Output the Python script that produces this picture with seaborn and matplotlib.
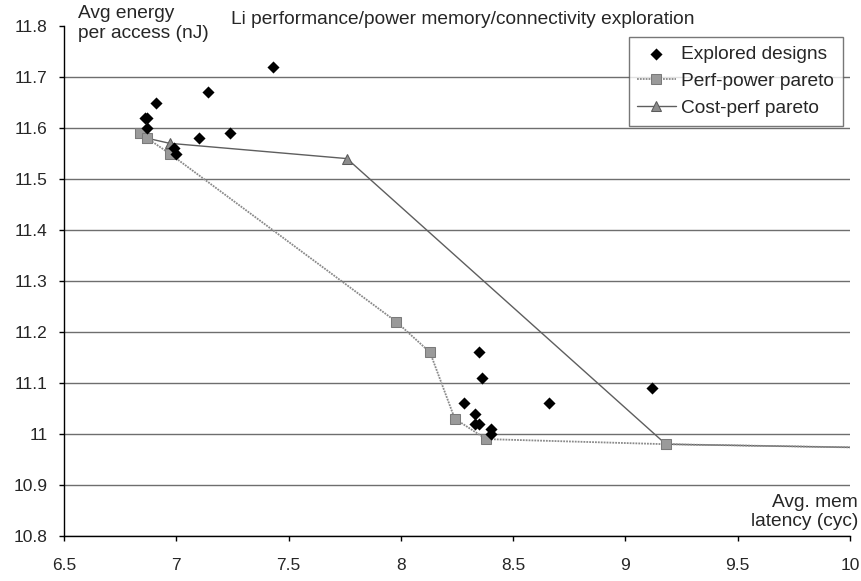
import numpy as np
import pandas as pd
import seaborn as sns
import matplotlib.pyplot as plt

# explored designs (avg mem latency in cycles, avg energy per access in nJ)
explored_x = [7.43, 7.14, 6.91, 6.86, 6.87, 6.87, 7.10, 7.24, 7.00, 6.99,
              8.35, 8.36, 8.28, 8.33, 8.33, 8.35, 8.40, 8.40, 8.66, 9.12]
explored_y = [11.72, 11.67, 11.65, 11.62, 11.62, 11.60, 11.58, 11.59, 11.55, 11.56,
              11.16, 11.11, 11.06, 11.04, 11.02, 11.02, 11.01, 11.00, 11.06, 11.09]

# performance-power pareto front
pp_x = [6.84, 6.87, 6.97, 7.98, 8.13, 8.24, 8.38, 9.18, 10.5]
pp_y = [11.59, 11.58, 11.55, 11.22, 11.16, 11.03, 10.99, 10.98, 10.97]

# cost-performance pareto front
cp_x = [6.84, 6.87, 6.97, 7.76, 9.18, 10.5]
cp_y = [11.59, 11.58, 11.57, 11.54, 10.98, 10.97]

xticks = [6.5, 7, 7.5, 8, 8.5, 9, 9.5, 10]
yticks = [10.8, 10.9, 11.0, 11.1, 11.2, 11.3, 11.4, 11.5, 11.6, 11.7, 11.8]
ytick_labels = ["10.8", "10.9", "11", "11.1", "11.2", "11.3", "11.4", "11.5", "11.6", "11.7", "11.8"]

sns.set_style("white")
plt.rcParams['font.family'] = ['Liberation Sans', 'DejaVu Sans']

fig = plt.figure(figsize=(8.62, 5.81), dpi=100)
ax = fig.add_axes([64 / 862, 45 / 581, 786 / 862, 510 / 581])

explored = pd.DataFrame({"x": explored_x, "y": explored_y})
pp = pd.DataFrame({"x": pp_x, "y": pp_y})
cp = pd.DataFrame({"x": cp_x, "y": cp_y})

sns.lineplot(data=cp, x="x", y="y", sort=False, ax=ax, color="#5e5e5e", lw=1.0,
             marker="^", markersize=7, markerfacecolor="#8c8c8c", markeredgecolor="#5a5a5a",
             label="Cost-perf pareto", zorder=3)
sns.lineplot(data=pp, x="x", y="y", sort=False, ax=ax, color="#8a8a8a", lw=1.3,
             linestyle=(0, (1, 0.6)), marker="s", markersize=6.5,
             markerfacecolor="#9a9a9a", markeredgecolor="#7a7a7a",
             label="Perf-power pareto", zorder=4)
sns.scatterplot(data=explored, x="x", y="y", ax=ax, marker="D", s=38, color="black",
                edgecolor="black", linewidth=0, label="Explored designs", zorder=5)

ax.set_xlim(6.5, 10)
ax.set_ylim(10.8, 11.8)
ax.set_xticks(xticks)
ax.set_xticklabels([f"{t:g}" for t in xticks])
ax.set_yticks(yticks)
ax.set_yticklabels(ytick_labels)
ax.tick_params(axis="both", direction="out", length=3.8, width=1, labelsize=12.5,
               color="black", left=True, bottom=True)
ax.tick_params(axis="y", pad=8)
ax.tick_params(axis="x", pad=12)
ax.grid(axis="y", color="#6e6e6e", lw=1.0)
ax.get_ygridlines()[-1].set_visible(False)
ax.set_axisbelow(True)
for side in ["top", "right"]:
    ax.spines[side].set_visible(False)
for side in ["left", "bottom"]:
    ax.spines[side].set_color("black")
    ax.spines[side].set_linewidth(1.0)
ax.set_xlabel("")
ax.set_ylabel("")

fig.text(78 / 862, 1 - 5 / 581, "Avg energy\nper access (nJ)", fontsize=13.8,
         ha="left", va="top", linespacing=1.22)
fig.text(231 / 862, 1 - 19 / 581, "Li performance/power memory/connectivity exploration",
         fontsize=13.8, ha="left", va="center")
fig.text(858 / 862, 1 - 512 / 581, "Avg. mem\nlatency (cyc)", fontsize=13.8,
         ha="right", va="center", linespacing=1.22)

handles, labels = ax.get_legend_handles_labels()
order = [labels.index(l) for l in ["Explored designs", "Perf-power pareto", "Cost-perf pareto"]]
leg = ax.legend([handles[i] for i in order], [labels[i] for i in order],
                loc="upper right", bbox_to_anchor=(843 / 862, 1 - 37 / 581),
                bbox_transform=fig.transFigure, fontsize=13.8, frameon=True,
                fancybox=False, shadow=False, edgecolor="#555555",
                borderpad=0.45, handlelength=2.0, handletextpad=0.3,
                labelspacing=0.5, borderaxespad=0)
leg.get_frame().set_linewidth(1.0)

fig.savefig("out.png", dpi=100)
